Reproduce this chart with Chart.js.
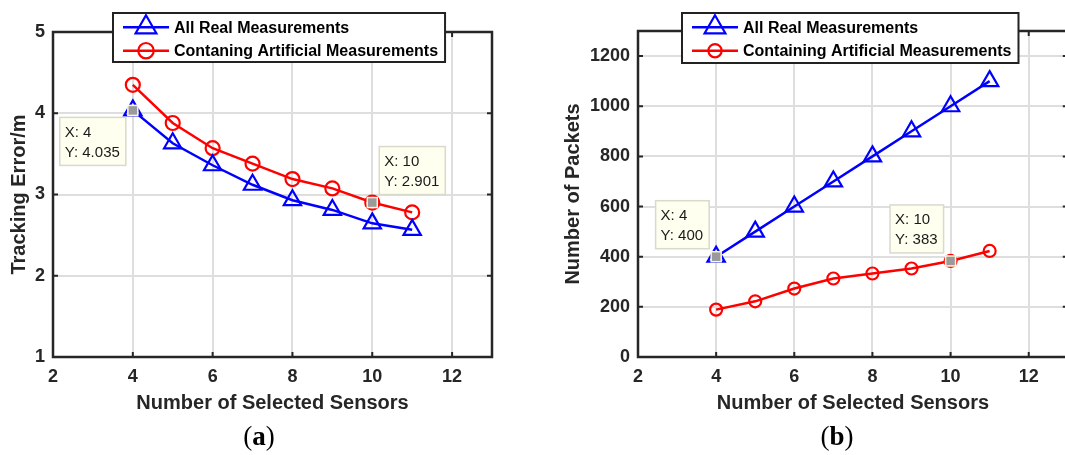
<!DOCTYPE html>
<html>
<head>
<meta charset="utf-8">
<script src="https://cdn.jsdelivr.net/npm/chart.js@4.4.1/dist/chart.umd.min.js"></script>
<style>
  html, body { margin: 0; padding: 0; background: #ffffff; overflow: hidden; width: 1065px; height: 455px; }
  #wa { position: absolute; left: 0; top: 0; width: 540px; height: 455px; }
  #wb { position: absolute; left: 540px; top: 0; width: 540px; height: 455px; }
  .cap { position: absolute; top: 423px; line-height: 1; font-family: "Liberation Serif", "DejaVu Serif", serif; font-size: 27px; color: #000; transform: translateX(-50%); white-space: nowrap; }
</style>
</head>
<body>
<div id="wa"><canvas id="ca" width="540" height="455"></canvas></div>
<div id="wb"><canvas id="cb" width="540" height="455"></canvas></div>
<div class="cap" style="left:259px">(<b>a</b>)</div>
<div class="cap" style="left:837px">(<b>b</b>)</div>
<script>
// ---------------- data ----------------
const sensors = [4, 5, 6, 7, 8, 9, 10, 11];
const errorAllReal = [4.035, 3.63, 3.36, 3.12, 2.93, 2.81, 2.645, 2.565];
const errorArtificial = [4.35, 3.88, 3.57, 3.38, 3.19, 3.075, 2.901, 2.78];
const packetsAllReal = [400, 500, 600, 700, 800, 900, 1000, 1100];
const packetsArtificial = [189, 222, 273, 313, 333, 353, 383, 423];
const xTickValues = [2, 4, 6, 8, 10, 12];
const errorTickValues = [1, 2, 3, 4, 5];
const packetTickValues = [0, 200, 400, 600, 800, 1000, 1200];
const seriesLabelsA = ['All Real Measurements', 'Contaning Artificial Measurements'];
const seriesLabelsB = ['All Real Measurements', 'Containing Artificial Measurements'];
const xTitle = 'Number of Selected Sensors';
const yTitleA = 'Tracking Error/m';
const yTitleB = 'Number of Packets';

// ---------------- styling ----------------
const SANS = '"Liberation Sans", Arial, Helvetica, sans-serif';
const AXIS_COLOR = '#262626';
const GRID_COLOR = '#dedede';

function pts(xs, ys) { return xs.map((x, i) => ({ x: x, y: ys[i] })); }

function tracePoint(ctx, style, r, x, y) {
  ctx.beginPath();
  if (style === 'triangle') {
    ctx.moveTo(x, y - r);
    ctx.lineTo(x + r * Math.sin(2 * Math.PI / 3), y - r * Math.cos(2 * Math.PI / 3));
    ctx.lineTo(x + r * Math.sin(4 * Math.PI / 3), y - r * Math.cos(4 * Math.PI / 3));
    ctx.closePath();
  } else {
    ctx.arc(x, y, r, 0, Math.PI * 2);
  }
}

const matlabDecor = {
  id: 'matlabDecor',
  afterDraw(chart, args, opts) {
    const ctx = chart.ctx;
    const ca = chart.chartArea;
    const xs = chart.scales.x, ys = chart.scales.y;
    ctx.save();
    // box
    ctx.strokeStyle = AXIS_COLOR;
    ctx.lineWidth = 2.5;
    ctx.strokeRect(ca.left, ca.top, ca.right - ca.left, ca.bottom - ca.top);
    // inward tick marks
    ctx.lineWidth = 2;
    const tl = 5;
    ctx.beginPath();
    xs.ticks.forEach(t => {
      const px = xs.getPixelForValue(t.value);
      ctx.moveTo(px, ca.bottom); ctx.lineTo(px, ca.bottom - tl);
      ctx.moveTo(px, ca.top); ctx.lineTo(px, ca.top + tl);
    });
    ys.ticks.forEach(t => {
      const py = ys.getPixelForValue(t.value);
      ctx.moveTo(ca.left, py); ctx.lineTo(ca.left + tl, py);
      ctx.moveTo(ca.right, py); ctx.lineTo(ca.right - tl, py);
    });
    ctx.stroke();

    // legend
    const lg = opts.legend;
    ctx.font = 'bold 16px ' + SANS;
    let tw = 0;
    chart.data.datasets.forEach(ds => { tw = Math.max(tw, ctx.measureText(ds.label).width); });
    const sampleW = 46, padL = 10, gap = 5, padR = 7;
    const boxW = padL + sampleW + gap + tw + padR;
    ctx.fillStyle = '#ffffff';
    ctx.fillRect(lg.left, lg.top, boxW, lg.height);
    ctx.strokeStyle = '#222222';
    ctx.lineWidth = 2;
    ctx.strokeRect(lg.left, lg.top, boxW, lg.height);
    chart.data.datasets.forEach((ds, i) => {
      const cy = lg.top + lg.firstRow + i * lg.rowGap;
      const sx = lg.left + padL;
      ctx.strokeStyle = ds.borderColor;
      ctx.lineWidth = ds.borderWidth;
      ctx.beginPath();
      ctx.moveTo(sx, cy); ctx.lineTo(sx + sampleW, cy);
      ctx.stroke();
      ctx.lineWidth = ds.pointBorderWidth;
      tracePoint(ctx, ds.pointStyle, ds.pointRadius * (ds.pointStyle === 'triangle' ? 1.2 : 1.1), sx + sampleW / 2, cy);
      ctx.stroke();
      ctx.fillStyle = '#000000';
      ctx.textAlign = 'left';
      ctx.textBaseline = 'middle';
      ctx.fillText(ds.label, sx + sampleW + gap, cy + 1);
    });

    // data tips
    (opts.tips || []).forEach(tip => {
      const ds = chart.data.datasets[tip.dataset];
      const d = ds.data[tip.index];
      const px = xs.getPixelForValue(d.x), py = ys.getPixelForValue(d.y);
      // marker
      ctx.fillStyle = '#9a9a9a';
      ctx.strokeStyle = '#fff6d8';
      ctx.lineWidth = 1.5;
      ctx.fillRect(px - 5, py - 5, 10, 10);
      ctx.strokeRect(px - 5, py - 5, 10, 10);
      // box
      ctx.font = '15px ' + SANS;
      const l1 = 'X: ' + d.x, l2 = 'Y: ' + d.y;
      const w = Math.max(ctx.measureText(l1).width, ctx.measureText(l2).width) + 11;
      const h = 48;
      let bx, by;
      if (tip.place === 'lowerleft') { bx = px - 7 - w; by = py + 7; }
      else if (tip.place === 'upperright') { bx = px + 7; by = py - 8 - h; }
      else { bx = px - 7 - w; by = py - 8 - h; }
      ctx.fillStyle = '#fffff0';
      ctx.fillRect(bx, by, w, h);
      ctx.strokeStyle = '#d9d9cc';
      ctx.lineWidth = 1.5;
      ctx.strokeRect(bx, by, w, h);
      ctx.fillStyle = '#1a1a1a';
      ctx.textAlign = 'left';
      ctx.textBaseline = 'middle';
      ctx.fillText(l1, bx + 5, by + 15);
      ctx.fillText(l2, bx + 5, by + 35);
    });
    ctx.restore();
  }
};

function makeChart(canvasId, cfg) {
  const tickFont = { family: SANS, size: 18, weight: 'bold' };
  const titleFont = { family: SANS, size: 20, weight: 'bold' };
  return new Chart(document.getElementById(canvasId), {
    type: 'line',
    data: {
      datasets: [
        {
          label: cfg.labels[0], data: pts(sensors, cfg.real),
          borderColor: '#0000ff', borderWidth: 2.5, tension: 0, fill: false,
          pointStyle: 'triangle', pointRadius: 10, pointBorderWidth: 2.2,
          pointBorderColor: '#0000ff', pointBackgroundColor: 'rgba(0,0,0,0)', pointHoverRadius: 10
        },
        {
          label: cfg.labels[1], data: pts(sensors, cfg.art),
          borderColor: '#ff0000', borderWidth: 2.5, tension: 0, fill: false,
          pointStyle: 'circle', pointRadius: cfg.circleR, pointBorderWidth: 2.2,
          pointBorderColor: '#ff0000', pointBackgroundColor: 'rgba(0,0,0,0)', pointHoverRadius: cfg.circleR
        }
      ]
    },
    options: {
      responsive: false, animation: false, devicePixelRatio: 1,
      layout: { padding: cfg.padding },
      events: [],
      plugins: {
        legend: { display: false },
        tooltip: { enabled: false },
        matlabDecor: { legend: cfg.legend, tips: cfg.tips }
      },
      scales: {
        x: {
          type: 'linear', position: 'bottom', min: 2, max: 13,
          afterBuildTicks: s => { s.ticks = xTickValues.map(v => ({ value: v })); },
          afterFit: s => { s.height = cfg.xHeight; },
          grid: { color: GRID_COLOR, lineWidth: 2, drawTicks: false },
          border: { display: false },
          ticks: { font: tickFont, color: AXIS_COLOR, padding: 9, maxRotation: 0, autoSkip: false, callback: v => String(v) },
          title: { display: true, text: xTitle, font: titleFont, color: AXIS_COLOR, padding: { top: 0, bottom: 40 } }
        },
        y: {
          type: 'linear', position: 'left', min: cfg.yMin, max: cfg.yMax,
          afterBuildTicks: s => { s.ticks = cfg.yTicks.map(v => ({ value: v })); },
          afterFit: s => { s.width = cfg.yWidth; },
          grid: { color: GRID_COLOR, lineWidth: 2, drawTicks: false },
          border: { display: false },
          ticks: { font: tickFont, color: AXIS_COLOR, padding: 8, autoSkip: false, callback: v => String(v) },
          title: { display: true, text: cfg.yTitle, font: titleFont, color: AXIS_COLOR, padding: { top: cfg.yTitlePad, bottom: 0 } }
        }
      }
    },
    plugins: [matlabDecor]
  });
}

makeChart('ca', {
  labels: seriesLabelsA, real: errorAllReal, art: errorArtificial,
  yMin: 1, yMax: 5, yTicks: errorTickValues, yTitle: yTitleA, yTitlePad: 7,
  yWidth: 53, xHeight: 98, circleR: 7,
  padding: { left: 0, top: 32, right: 48, bottom: 0 },
  legend: { left: 113, top: 13, height: 49, firstRow: 14.3, rowGap: 23.4 },
  tips: [ { dataset: 0, index: 0, place: 'lowerleft' }, { dataset: 1, index: 6, place: 'upperright' } ]
});

makeChart('cb', {
  labels: seriesLabelsB, real: packetsAllReal, art: packetsArtificial,
  yMin: 0, yMax: 1300, yTicks: packetTickValues, yTitle: yTitleB, yTitlePad: 21,
  yWidth: 98, xHeight: 98, circleR: 6,
  padding: { left: 0, top: 31, right: 12, bottom: 0 },
  legend: { left: 142, top: 13, height: 50, firstRow: 14.3, rowGap: 23.4 },
  tips: [ { dataset: 0, index: 0, place: 'upperleft' }, { dataset: 1, index: 6, place: 'upperleft' } ]
});
</script>
</body>
</html>
